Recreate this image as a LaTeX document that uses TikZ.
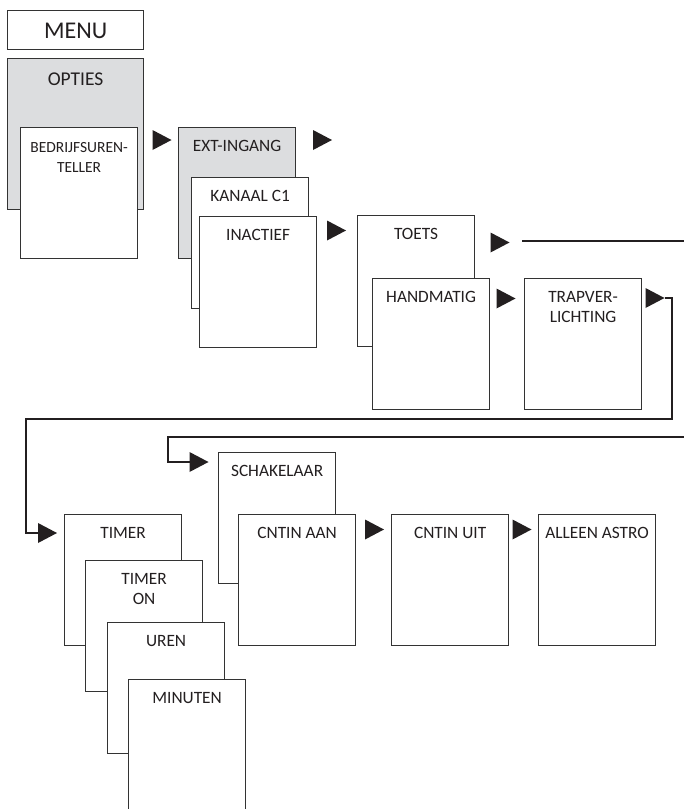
\documentclass[tikz,border=0pt]{standalone}
\usepackage{fontspec}
\setmainfont{Carlito}
\definecolor{ink}{HTML}{231F20}
\definecolor{edge}{HTML}{333333}
\definecolor{shade}{HTML}{DCDDDF}
\tikzset{
  box/.style={draw=edge, line width=1.2pt, fill=white, inner sep=0pt},
  gbox/.style={box, fill=shade},
  lbl/.style={font=\fontsize{17.3}{20}\selectfont, text=ink, align=center, anchor=north, inner sep=0pt},
  small/.style={lbl, font=\fontsize{15.5}{20}\selectfont},
  conn/.style={draw=ink, line width=2.2pt},
  tri/.pic={\fill[ink] (-9.5,-10) -- (9.5,0) -- (-9.5,10) -- cycle;
            \coordinate (-tip) at (9.5,0); \coordinate (-back) at (-9.5,0);}
}
\newcommand{\menubox}[5]{%
  \node[#2, minimum width=117pt, minimum height=131pt, anchor=north west] (#1) at (#3,#4) {};
  \node[lbl] (#1-t) at ([yshift=-13pt]#1.north) {#5};}
\begin{document}
\begin{tikzpicture}[x=1pt,y=-1pt]
\fill[white] (0,0) rectangle (684,809);
\useasboundingbox (0,0) rectangle (684,809);

% top left
\node[box, minimum width=136pt, minimum height=39pt, anchor=north west] (menu) at (7,10) {};
\node[lbl, anchor=center, font=\fontsize{24}{26}\selectfont] (menu-t) at ([yshift=-1pt]menu.center) {MENU};
\node[gbox, minimum width=136pt, minimum height=151pt, anchor=north west] (opties) at (7,58) {};
\node[lbl, font=\fontsize{19.5}{22}\selectfont] (opties-t) at ([yshift=-15pt]opties.north) {OPTIES};
\node[box, minimum width=117pt, minimum height=131pt, anchor=north west] (bedr) at (20,127) {};
\node[small] (bedr-t) at ([yshift=-15pt]bedr.north) {BEDRIJFSUREN-\\TELLER};

% ext-ingang column
\menubox{ext}{gbox}{178}{127}{EXT-INGANG}
\menubox{kanaal}{box}{191}{177}{KANAAL C1}
\menubox{inact}{box}{199}{216}{INACTIEF}

% toets column
\menubox{toets}{box}{357}{215}{TOETS}
\menubox{hand}{box}{372}{278}{HANDMATIG}
\menubox{trap}{box}{524}{278}{TRAPVER-\\LICHTING}

% timer stack
\menubox{timer}{box}{64}{514}{TIMER}
\menubox{timeron}{box}{85}{560}{TIMER\\ON}
\menubox{uren}{box}{107}{622}{UREN}
\menubox{minuten}{box}{128}{679}{MINUTEN}

% schakelaar row
\menubox{schak}{box}{218}{452}{SCHAKELAAR}
\menubox{aan}{box}{238}{514}{CNTIN AAN}
\menubox{uit}{box}{391}{514}{CNTIN UIT}
\menubox{astro}{box}{538}{514}{ALLEEN ASTRO}

% arrow heads
\pic (a1) at (162,140) {tri};
\pic (a2) at (322.5,140) {tri};
\pic (a3) at (336.5,230.5) {tri};
\pic (a4) at (500,242.5) {tri};
\pic (a5) at (506,298.5) {tri};
\pic (a6) at (655,298) {tri};
\pic (a7) at (47.5,533) {tri};
\pic (a8) at (199,462) {tri};
\pic (a9) at (374.5,529.5) {tri};
\pic (a10) at (522,529.5) {tri};

% connectors
\coordinate (l1s) at (522,241);
\coordinate (r1) at (684,241);
\draw[conn] (l1s) -- (r1);

\coordinate (c1) at (672,419);
\coordinate (c2) at (26,419);
\draw[conn] (a6-tip) -| (c1) -- (c2) |- (a7-back);

\coordinate (r2) at (684,437);
\coordinate (c3) at (168,437);
\draw[conn] (r2) -- (c3) |- (a8-back);
\end{tikzpicture}
\end{document}
